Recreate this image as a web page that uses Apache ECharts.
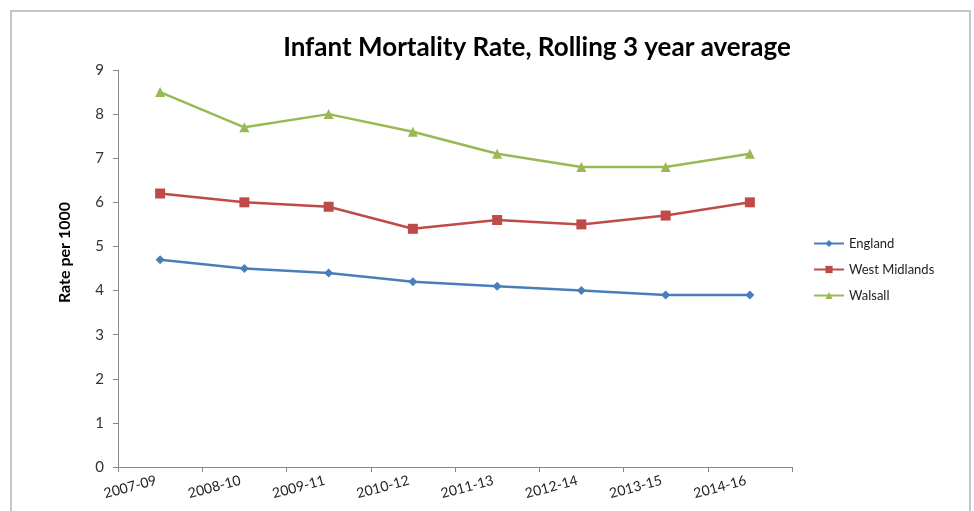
<!DOCTYPE html>
<html>
<head>
<meta charset="utf-8">
<script src="https://cdn.jsdelivr.net/npm/echarts@6/dist/echarts.min.js"></script>
<style>
  html, body { margin: 0; padding: 0; background: #fff; }
  #chart { width: 974px; height: 511px; }
</style>
</head>
<body>
<div id="chart"></div>
<script>
// rolling 3 year periods
const periods = ['2007-09', '2008-10', '2009-11', '2010-12', '2011-13', '2012-14', '2013-15', '2014-16']
// infant deaths per 1000 live births
const england = [4.7, 4.5, 4.4, 4.2, 4.1, 4.0, 3.9, 3.9]
const westMidlands = [6.2, 6.0, 5.9, 5.4, 5.6, 5.5, 5.7, 6.0]
const walsall = [8.5, 7.7, 8.0, 7.6, 7.1, 6.8, 6.8, 7.1]

const font = 'Lato, "Open Sans", sans-serif'

let myChart = echarts.init(document.getElementById('chart'))
myChart.setOption({
  backgroundColor: '#fff',
  animation: false,
  graphic: [{
    type: 'rect',
    shape: { x: 11, y: 11, width: 959, height: 520 },
    style: { fill: 'none', stroke: '#c6c6c6', lineWidth: 2 },
    silent: true
  }],
  title: {
    text: 'Infant Mortality Rate, Rolling 3 year average',
    left: 532,
    top: 30,
    textAlign: 'center',
    textStyle: {
      fontFamily: font,
      fontSize: 26,
      fontWeight: 'bold',
      color: '#000'
    }
  },
  grid: {
    left: 118,
    top: 70,
    right: 182,
    bottom: 44
  },
  legend: {
    orient: 'vertical',
    left: 808,
    top: 232,
    itemGap: 13,
    itemWidth: 30,
    itemHeight: 9,
    textStyle: { fontFamily: font, fontSize: 13, color: '#222' },
    data: ['England', 'West Midlands', 'Walsall']
  },
  xAxis: {
    type: 'category',
    data: periods,
    axisLine: { lineStyle: { color: '#868686', width: 1 } },
    axisTick: { show: true, length: 5, lineStyle: { color: '#868686' } },
    axisLabel: {
      rotate: 15,
      margin: 12,
      fontFamily: font,
      fontSize: 14,
      color: '#222',
      interval: 0,
      padding: [0, 4, 0, 0]
    }
  },
  yAxis: {
    type: 'value',
    min: 0,
    max: 9,
    interval: 1,
    name: 'Rate per 1000',
    nameLocation: 'middle',
    nameGap: 45,
    nameTextStyle: {
      fontFamily: font,
      fontSize: 16,
      fontWeight: 'bold',
      color: '#000',
      padding: [0, 0, 0, 32]
    },
    splitLine: { show: false },
    axisLine: { show: true, lineStyle: { color: '#868686', width: 1 } },
    axisTick: { show: true, length: 5, lineStyle: { color: '#868686' } },
    axisLabel: {
      margin: 14,
      fontFamily: font,
      fontSize: 15,
      color: '#333'
    }
  },
  series: [
    {
      name: 'England',
      type: 'line',
      data: england,
      symbol: 'diamond',
      symbolSize: 9,
      itemStyle: { color: '#4a7ebb' },
      lineStyle: { width: 2.5, color: '#4a7ebb' }
    },
    {
      name: 'West Midlands',
      type: 'line',
      data: westMidlands,
      symbol: 'rect',
      symbolSize: 10,
      itemStyle: { color: '#be4b48' },
      lineStyle: { width: 2.5, color: '#be4b48' }
    },
    {
      name: 'Walsall',
      type: 'line',
      data: walsall,
      symbol: 'triangle',
      symbolSize: 10,
      itemStyle: { color: '#98b954' },
      lineStyle: { width: 2.5, color: '#98b954' }
    }
  ]
})
</script>
</body>
</html>
